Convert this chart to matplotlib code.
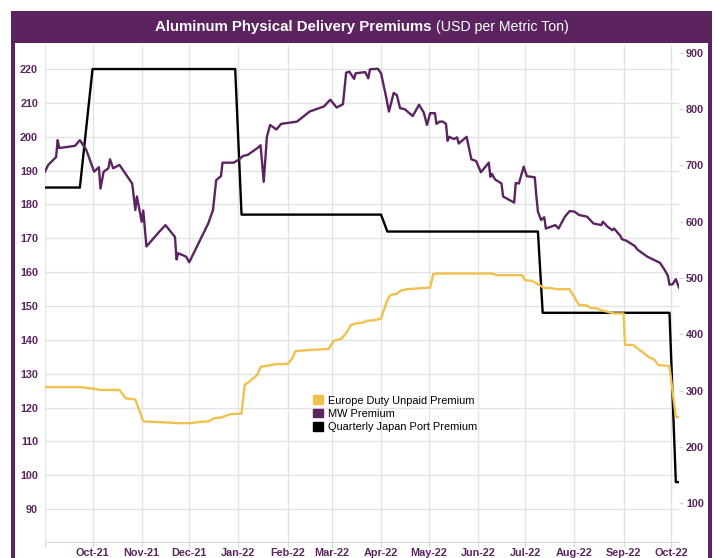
import matplotlib
matplotlib.use('Agg')

import pandas as pd
import matplotlib.pyplot as plt
import matplotlib.patches as mpatches
from matplotlib import font_manager

# ---- data ----
mw_dates = ['2021-09-01', '2021-09-03', '2021-09-08', '2021-09-09', '2021-09-10', '2021-09-20',
            '2021-09-23', '2021-09-27', '2021-10-02', '2021-10-05', '2021-10-06', '2021-10-08',
            '2021-10-11', '2021-10-12', '2021-10-14', '2021-10-18', '2021-10-26', '2021-10-28',
            '2021-10-29', '2021-11-01', '2021-11-02', '2021-11-04', '2021-11-12', '2021-11-16',
            '2021-11-22', '2021-11-23', '2021-11-24', '2021-11-29', '2021-12-01', '2021-12-13',
            '2021-12-16', '2021-12-18', '2021-12-21', '2021-12-22', '2021-12-29', '2022-01-01',
            '2022-01-04', '2022-01-07', '2022-01-13', '2022-01-15', '2022-01-17', '2022-01-19',
            '2022-01-21', '2022-01-25', '2022-01-28', '2022-02-07', '2022-02-15', '2022-02-24',
            '2022-02-28', '2022-03-04', '2022-03-08', '2022-03-10', '2022-03-12', '2022-03-15',
            '2022-03-16', '2022-03-22', '2022-03-24', '2022-03-25', '2022-03-30', '2022-04-01',
            '2022-04-04', '2022-04-06', '2022-04-09', '2022-04-11', '2022-04-13', '2022-04-16',
            '2022-04-21', '2022-04-25', '2022-04-28', '2022-04-30', '2022-05-02', '2022-05-05',
            '2022-05-06', '2022-05-08', '2022-05-10', '2022-05-12', '2022-05-13', '2022-05-14',
            '2022-05-17', '2022-05-19', '2022-05-20', '2022-05-25', '2022-05-28', '2022-05-31',
            '2022-06-03', '2022-06-08', '2022-06-09', '2022-06-10', '2022-06-12', '2022-06-16',
            '2022-06-17', '2022-06-24', '2022-06-25', '2022-06-27', '2022-06-30', '2022-07-02',
            '2022-07-07', '2022-07-08', '2022-07-09', '2022-07-11', '2022-07-13', '2022-07-14',
            '2022-07-20', '2022-07-22', '2022-07-26', '2022-07-29', '2022-08-01', '2022-08-04',
            '2022-08-09', '2022-08-13', '2022-08-18', '2022-08-19', '2022-08-22', '2022-08-25',
            '2022-08-26', '2022-08-30', '2022-08-31', '2022-09-03', '2022-09-08', '2022-09-10',
            '2022-09-16', '2022-09-24', '2022-09-27', '2022-09-29', '2022-09-30', '2022-10-02',
            '2022-10-04', '2022-10-06']
mw_values = [689, 701, 715, 745, 731, 735,
             745, 728, 689, 697, 659, 689,
             695, 711, 695, 701, 668, 621,
             645, 600, 620, 556, 582, 594,
             573, 533, 544, 538, 528, 597,
             621, 674, 681, 705, 705, 710,
             717, 719, 731, 736, 671, 751,
             772, 764, 774, 778, 796, 805,
             817, 803, 809, 865, 867, 854,
             864, 866, 855, 871, 872, 864,
             825, 796, 829, 825, 802, 800,
             788, 808, 794, 772, 793, 793,
             774, 778, 778, 774, 744, 751,
             747, 750, 739, 751, 711, 708,
             688, 705, 680, 685, 675, 668,
             645, 634, 669, 668, 698, 681,
             679, 646, 618, 603, 608, 588,
             594, 588, 609, 619, 618, 612,
             609, 597, 594, 600, 591, 585,
             588, 575, 569, 566, 557, 550,
             538, 527, 514, 504, 488, 489,
             498, 483]

eu_dates = ['2021-09-01', '2021-09-23', '2021-10-02', '2021-10-06', '2021-10-18', '2021-10-22',
            '2021-10-28', '2021-11-02', '2021-11-18', '2021-11-23', '2021-12-01', '2021-12-11',
            '2021-12-13', '2021-12-17', '2021-12-21', '2021-12-25', '2021-12-27', '2022-01-03',
            '2022-01-05', '2022-01-08', '2022-01-13', '2022-01-15', '2022-01-19', '2022-01-25',
            '2022-02-01', '2022-02-04', '2022-02-06', '2022-02-15', '2022-02-27', '2022-03-02',
            '2022-03-07', '2022-03-10', '2022-03-13', '2022-03-16', '2022-03-21', '2022-03-23',
            '2022-03-28', '2022-04-01', '2022-04-05', '2022-04-07', '2022-04-11', '2022-04-13',
            '2022-04-17', '2022-04-22', '2022-05-02', '2022-05-04', '2022-05-07', '2022-06-10',
            '2022-06-13', '2022-06-29', '2022-07-01', '2022-07-05', '2022-07-09', '2022-07-13',
            '2022-07-17', '2022-07-21', '2022-07-29', '2022-08-04', '2022-08-09', '2022-08-11',
            '2022-08-15', '2022-08-19', '2022-08-26', '2022-09-01', '2022-09-02', '2022-09-07',
            '2022-09-14', '2022-09-17', '2022-09-20', '2022-09-23', '2022-09-29', '2022-09-30',
            '2022-10-04', '2022-10-07']
eu_values = [306, 306, 303, 301, 301, 286,
             284, 245, 243, 242, 242, 245,
             245, 251, 252, 256, 258, 259,
             310, 316, 328, 342, 344, 347,
             347, 357, 370, 372, 374, 388,
             392, 402, 416, 419, 421, 424,
             425, 428, 461, 470, 472, 477,
             480, 481, 483, 507, 508, 508,
             505, 505, 496, 495, 489, 482,
             482, 480, 480, 452, 451, 447,
             446, 442, 437, 437, 381, 381,
             366, 359, 356, 345, 344, 342,
             253, 253]

jp_dates = ['2021-09-01', '2021-09-23', '2021-10-01', '2021-12-30', '2022-01-03', '2022-04-01',
            '2022-04-05', '2022-07-09', '2022-07-12', '2022-09-30', '2022-10-04', '2022-10-06']
jp_values = [185, 185, 220, 220, 177, 177,
             172, 172, 148, 148, 98, 98]

labels = ['Europe Duty Unpaid Premium', 'MW Premium', 'Quarterly Japan Port Premium']

PURPLE = '#5B2461'
YELLOW = '#F0C14C'
GRID = '#E3E3E3'

names = {f.name for f in font_manager.fontManager.ttflist}
narrow = 'Liberation Sans Narrow' if 'Liberation Sans Narrow' in names else 'Liberation Sans'
plain = 'Liberation Sans'

W, H = 714, 558
fig = plt.figure(figsize=(W / 100, H / 100), dpi=100)
fig.patch.set_facecolor('white')

# purple frame + title bar
fig.add_artist(mpatches.Rectangle((11 / W, 1 - 43 / H), 701 / W, 32 / H,
                                  transform=fig.transFigure, color=PURPLE, lw=0))
fig.add_artist(mpatches.Rectangle((11 / W, 0), 4 / W, 1 - 43 / H,
                                  transform=fig.transFigure, color=PURPLE, lw=0))
fig.add_artist(mpatches.Rectangle((708 / W, 0), 4 / W, 1 - 43 / H,
                                  transform=fig.transFigure, color=PURPLE, lw=0))

ax = fig.add_axes([45 / W, (H - 542) / H, 634 / W, 497 / H])
ax2 = ax.twinx()

ax.plot(pd.to_datetime(jp_dates), jp_values, color='black', lw=1.7, zorder=3)
ax2.plot(pd.to_datetime(eu_dates), eu_values, color=YELLOW, lw=1.7)
ax2.plot(pd.to_datetime(mw_dates), mw_values, color=PURPLE, lw=1.7)

ax.set_xlim(pd.Timestamp('2021-09-01'), pd.Timestamp('2022-10-06'))
ax.set_ylim(80.3, 227.1)
ax2.set_ylim(30.7, 914.2)

months = pd.date_range('2021-09-01', '2022-10-01', freq='MS')
ax.set_xticks(months)
ax.set_xticklabels([''] + [m.strftime('%b-%y') for m in months[1:]])
ax.set_yticks(range(90, 221, 10))
ax2.set_yticks(range(100, 901, 100))

ax.grid(True, color=GRID, lw=1)
ax.set_axisbelow(True)

for s in ['top', 'right', 'left']:
    ax.spines[s].set_visible(False)
    ax2.spines[s].set_visible(False)
ax.spines['bottom'].set_color('#D8D8D8')
ax2.spines['bottom'].set_visible(False)

tick_font = dict(family=[narrow, 'DejaVu Sans'], weight='bold', size=7.8)
ax.tick_params(axis='y', length=0, pad=5, labelcolor=PURPLE)
ax.tick_params(axis='x', length=3.5, width=1, color='#D8D8D8', pad=0.5, labelcolor=PURPLE)
ax2.tick_params(axis='y', length=3, width=1, color='#D8D8D8', pad=2, labelcolor=PURPLE)
for lab in ax.get_xticklabels() + ax.get_yticklabels() + ax2.get_yticklabels():
    lab.set_fontproperties(font_manager.FontProperties(**tick_font))

handles = [mpatches.Patch(color=c) for c in [YELLOW, PURPLE, 'black']]
ax2.legend(handles, labels, loc='upper left', bbox_to_anchor=(308 / W, 1 - 390 / H),
           bbox_transform=fig.transFigure, frameon=False, borderpad=0,
           handlelength=0.85, handleheight=0.85, handletextpad=0.45, labelspacing=0.28,
           prop=dict(family=[plain, 'DejaVu Sans'], size=7.9))

# title: bold part + regular part, centred together
ty = 1 - 27 / H
t1 = fig.text(0, ty, 'Aluminum Physical Delivery Premiums', color='white', va='center',
              ha='left', family=[narrow, 'DejaVu Sans'], weight='bold', size=10.8)
t2 = fig.text(0, ty, '(USD per Metric Ton)', color='white', va='center', ha='left',
              family=[plain, 'DejaVu Sans'], size=10.2)
fig.canvas.draw()
r = fig.canvas.get_renderer()
w1 = t1.get_window_extent(r).width
w2 = t2.get_window_extent(r).width
gap = 4
x0 = 362 - (w1 + gap + w2) / 2
t1.set_x(x0 / W)
t2.set_x((x0 + w1 + gap) / W)

fig.savefig('out.png', dpi=100)
